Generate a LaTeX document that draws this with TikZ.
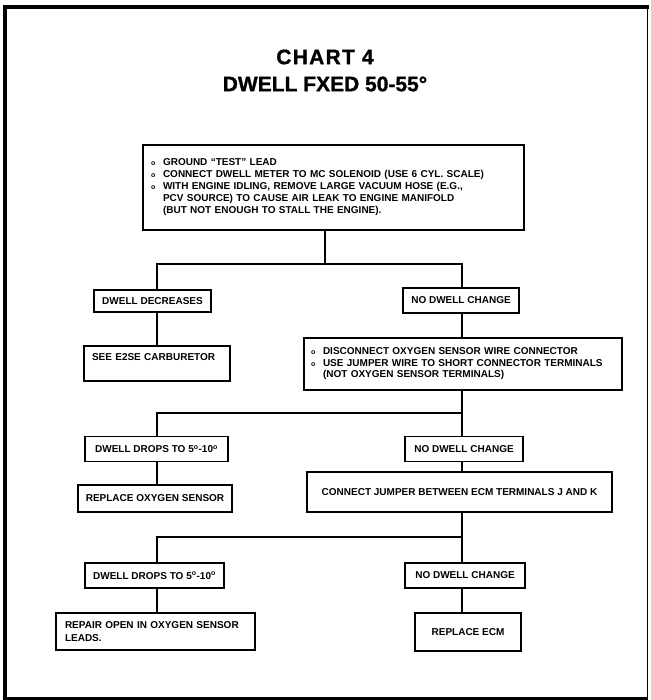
\documentclass[tikz,border=0pt]{standalone}
\usepackage{fontspec}
\setmainfont{Liberation Sans}
\newfontfamily\titlefont[FakeBold=1.2]{Liberation Sans}
\newfontfamily\titlewide[FakeBold=1.2,LetterSpace=6]{Liberation Sans}
\newfontfamily\bodyfont{Liberation Sans}
% bullet mark and hanging indent for the listed steps
\newcommand{\stepmark}{\makebox[12pt][l]{\fontsize{7}{7}\selectfont o}}
\newcommand{\stepindent}{\hspace*{12pt}}
\begin{document}
\begin{tikzpicture}[x=1pt,y=-1pt,
  box/.style={draw, line width=1.8pt, inner xsep=8pt, inner ysep=0pt,
    font=\bodyfont\bfseries\fontsize{10}{12}\selectfont},
  link/.style={line width=1.6pt}]
\useasboundingbox (0,0) rectangle (650,700);
\fill[white] (0,0) rectangle (650,700);

% outer frame
\draw[line width=4.5pt, line cap=rect] (5,698) -- (5,7) -- (647,7);
\draw[line width=1.5pt] (647.5,7) -- (647.5,698);
\draw[line width=3pt] (5,698) -- (647.5,698);

% heading
\node[font=\titlewide\bfseries\fontsize{21}{24}\selectfont] (t1) at (325,57) {CHART 4};
\node[font=\titlefont\bfseries\fontsize{21}{24}\selectfont] (t2) at (325,84) {DWELL FXED 50-55°};

% column guides and branch levels
\coordinate (cx) at (325,0);
\coordinate (lx) at (157,0);
\coordinate (rx) at (462,0);
\coordinate (b0) at (0,264);
\coordinate (b1) at (0,413);
\coordinate (b2) at (0,537);

% boxes
\node[box, text width=365pt, minimum height=85pt, align=left] (top) at (333.5,187.5)
  {\stepmark\mbox{GROUND “TEST” LEAD}\\
   \stepmark\mbox{CONNECT DWELL METER TO MC SOLENOID (USE 6 CYL. SCALE)}\\
   \stepmark\mbox{WITH ENGINE IDLING, REMOVE LARGE VACUUM HOSE (E.G.,}\\
   \stepindent\mbox{PCV SOURCE) TO CAUSE AIR LEAK TO ENGINE MANIFOLD}\\
   \stepindent\mbox{(BUT NOT ENOUGH TO STALL THE ENGINE).}};

\node[box, minimum width=111pt, minimum height=22pt] (dd) at (152.5,301) {DWELL DECREASES};
\node[box, minimum width=114pt, minimum height=25pt] (nd) at (461,300.5) {NO DWELL CHANGE};

\node[box, text width=130pt, minimum height=35pt, align=left] (see) at (157,363.5)
  {\mbox{SEE E2SE CARBURETOR}\\\mbox{}};
\node[box, inner xsep=7pt, text width=304pt, minimum height=52pt, align=left,
      font=\bodyfont\bfseries\fontsize{10}{11.5}\selectfont] (disc) at (463,364)
  {\stepmark\mbox{DISCONNECT OXYGEN SENSOR WIRE CONNECTOR}\\
   \stepmark\mbox{USE JUMPER WIRE TO SHORT CONNECTOR TERMINALS}\\
   \stepindent\mbox{(NOT OXYGEN SENSOR TERMINALS)}};

\node[box, minimum width=143pt, minimum height=25pt] (dr1) at (156.5,449)
  {DWELL DROPS TO 5\textsuperscript{o}-10\textsuperscript{o}};
\node[box, minimum width=118pt, minimum height=25pt] (nd1) at (464,449) {NO DWELL CHANGE};

\node[box, minimum width=154pt, minimum height=27pt] (rep) at (155,498.5) {REPLACE OXYGEN SENSOR};
\node[box, minimum width=305pt, minimum height=40pt] (jmp) at (459.5,492)
  {CONNECT JUMPER BETWEEN ECM TERMINALS J AND K};

\node[box, minimum width=139pt, minimum height=25pt] (dr2) at (154.5,575.5)
  {DWELL DROPS TO 5\textsuperscript{o}-10\textsuperscript{o}};
\node[box, minimum width=120pt, minimum height=25pt] (nd2) at (465,575.5) {NO DWELL CHANGE};

\node[box, inner xsep=9pt, text width=181pt, minimum height=37pt, align=left,
      font=\bodyfont\bfseries\fontsize{10}{13}\selectfont] (repair) at (155.5,631.5)
  {\mbox{REPAIR OPEN IN OXYGEN SENSOR}\\\mbox{LEADS.}};
\node[box, minimum width=106pt, minimum height=38pt] (ecm) at (468,632) {REPLACE ECM};

% connectors
\draw[link] (top.south -| cx) -- (b0 -| cx);
\draw[link] (dd.north -| lx) |- (b0 -| rx) -- (nd.north -| rx);
\draw[link] (dd.south -| lx) -- (see.north -| lx);
\draw[link] (nd.south -| rx) -- (disc.north -| rx);
\draw[link] (disc.south -| rx) -- (b1 -| rx);
\draw[link] (dr1.north -| lx) |- (b1 -| rx) -- (nd1.north -| rx);
\draw[link] (dr1.south -| lx) -- (rep.north -| lx);
\draw[link] (nd1.south -| rx) -- (jmp.north -| rx);
\draw[link] (jmp.south -| rx) -- (b2 -| rx);
\draw[link] (dr2.north -| lx) |- (b2 -| rx) -- (nd2.north -| rx);
\draw[link] (dr2.south -| lx) -- (repair.north -| lx);
\draw[link] (nd2.south -| rx) -- (ecm.north -| rx);
\end{tikzpicture}
\end{document}
